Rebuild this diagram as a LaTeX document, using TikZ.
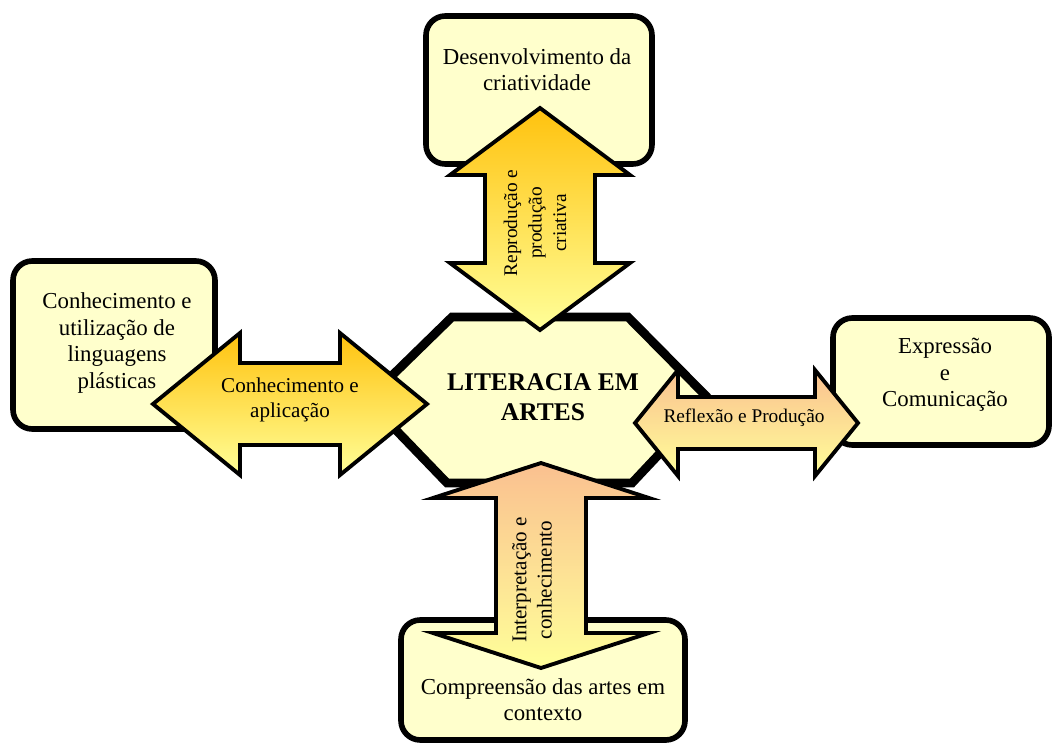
\documentclass[tikz,border=0pt]{standalone}
\usepackage{fontspec}
\setmainfont{Liberation Serif}
\usepackage{xcolor}
\usetikzlibrary{positioning}
\definecolor{boxyellow}{HTML}{FFFFCC}
\definecolor{paleyellow}{HTML}{FFFF99}
\definecolor{goldtop}{HTML}{FFC20E}
\definecolor{peach}{HTML}{FAC090}
\tikzset{
  box/.style={draw=black,line width=3.2pt,fill=boxyellow,rounded corners=11pt},
  blockarrow/.style={draw=black,line width=2.2pt,line join=miter},
  boxtext/.style={align=center,inner sep=0pt,font=\fontsize{13}{15}\selectfont},
  arrowtext/.style={align=center,inner sep=0pt,font=\fontsize{12}{14.5}\selectfont}
}
% double block arrows: tip, tip, axis, head length, head half width, shaft half width, options
\newcommand{\harrow}[7]{\draw[blockarrow,#7] (#1,#3) -- ({#1+#4},{#3-#5}) -- ({#1+#4},{#3-#6})
  -- ({#2-#4},{#3-#6}) -- ({#2-#4},{#3-#5}) -- (#2,#3) -- ({#2-#4},{#3+#5}) -- ({#2-#4},{#3+#6})
  -- ({#1+#4},{#3+#6}) -- ({#1+#4},{#3+#5}) -- cycle;}
\newcommand{\varrow}[7]{\draw[blockarrow,#7] (#3,#1) -- ({#3-#5},{#1+#4}) -- ({#3-#6},{#1+#4})
  -- ({#3-#6},{#2-#4}) -- ({#3-#5},{#2-#4}) -- (#3,#2) -- ({#3+#5},{#2-#4}) -- ({#3+#6},{#2-#4})
  -- ({#3+#6},{#1+#4}) -- ({#3+#5},{#1+#4}) -- cycle;}

\begin{document}
\begin{tikzpicture}[x=0.02cm,y=-0.02cm]
\useasboundingbox (0,0) rectangle (1055,747);
% outer boxes
\draw[box] (426,16) rectangle (652,164);
\draw[box] (13,261) rectangle (215,429);
\draw[box] (833,318) rectangle (1049,445);
\draw[box] (401,620) rectangle (685,740);
\node[boxtext] (dev) at (537,70) {Desenvolvimento da\\criatividade};
\node[boxtext] (ling) at (117,343) {Conhecimento e\\utilização de\\linguagens\\plásticas};
\node[boxtext] (expr) at (945,375) {Expressão\\e\\Comunicação};
\node[boxtext] (comp) at (543,700) {Compreensão das artes em\\contexto};
% centre
\draw[line width=5pt,line join=miter,fill=boxyellow] (452,317)--(628,317)--(710,400)--(632,483)--(447,483)--(367,400)--cycle;
\node[align=center,inner sep=0pt,font=\fontsize{14.5}{17}\selectfont\bfseries] (lit) at (543,397) {LITERACIA EM\\ARTES};
% block arrows
\varrow{108}{330}{540}{67}{90}{55}{top color=goldtop,bottom color=paleyellow}
\varrow{463}{668}{541}{35}{108}{45}{top color=peach,bottom color=paleyellow}
\harrow{153}{427}{404}{87}{71}{41}{top color=goldtop,bottom color=paleyellow}
\harrow{635}{858}{423}{43}{53}{26}{top color=peach,bottom color=paleyellow}
\node[arrowtext,rotate=90,font=\fontsize{11}{14}\selectfont] (repr) at (535,223) {Reprodução e\\produção\\criativa};
\node[arrowtext,rotate=90] (interp) at (532,580) {Interpretação e\\conhecimento};
\node[arrowtext] (apl) at (290,400) {Conhecimento e\\aplicação};
\node[arrowtext,font=\fontsize{11}{13}\selectfont] (refl) at (744,418) {Reflexão e Produção};
\end{tikzpicture}
\end{document}
